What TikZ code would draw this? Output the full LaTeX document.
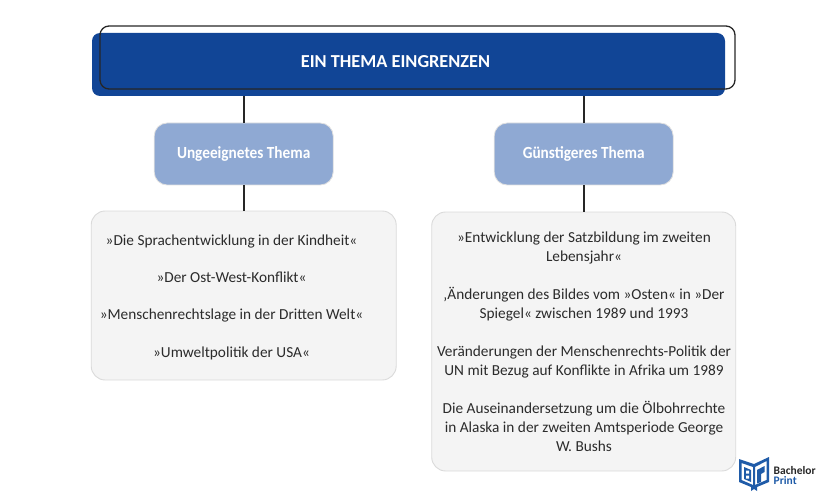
\documentclass[tikz,border=0pt]{standalone}
\usepackage{fontspec}
\setmainfont{Carlito}
\newfontfamily\headfont[FakeStretch=0.90]{Carlito Bold}
\usetikzlibrary{calc}
\definecolor{navy}{HTML}{114596}
\definecolor{midblue}{HTML}{8FA9D3}
\definecolor{listfill}{HTML}{F4F4F4}
\definecolor{listline}{HTML}{DADADA}
\definecolor{ink}{HTML}{2B2B2B}
\definecolor{logoblue}{HTML}{1F5BA8}
\tikzset{
  px/.style={x=1pt,y=-1pt},
  mainbox/.style={fill=navy,draw=none,rounded corners=8pt,minimum width=633pt,minimum height=63pt,inner sep=0pt},
  frameline/.style={draw=black!85,line width=1.3pt,rounded corners=9pt,minimum width=635pt,minimum height=63pt,inner sep=0pt},
  titletext/.style={text=white,font=\fontsize{18.3}{20}\selectfont\bfseries},
  midbox/.style={fill=midblue,draw=black!12,line width=.8pt,rounded corners=13pt,minimum width=179pt,minimum height=62pt,inner sep=0pt,text=white,font=\fontsize{17}{20}\selectfont\headfont},
  listbox/.style={fill=listfill,draw=listline,line width=.9pt,rounded corners=14pt,inner sep=0pt},
  listtext/.style={text=ink,align=center,inner sep=0pt,font=\fontsize{15.3}{19}\selectfont},
  link/.style={draw=black!85,line width=2pt},
}
\begin{document}
\begin{tikzpicture}[px]
\useasboundingbox (0,0) rectangle (825,500);
\node[mainbox] (main) at (408.5,64.5) {};
\node[frameline] (frame) at (417.5,57.5) {};
\node[titletext] (title) at (395.5,62) {EIN THEMA EINGRENZEN};
\node[listbox,minimum width=305pt,minimum height=169pt] (llist) at (243.7,295.5) {};
\node[listbox,minimum width=304pt,minimum height=259pt] (rlist) at (583.7,341.5) {};
\node[midbox] (lmid) at (243.7,154) {\raisebox{-1pt}{Ungeeignetes Thema}};
\node[midbox] (rmid) at (583.7,154) {\raisebox{-1pt}{Günstigeres Thema}};
\draw[link] (main.south -| lmid.north) -- (lmid.north);
\draw[link] (main.south -| rmid.north) -- (rmid.north);
\draw[link] (lmid.south) -- (llist.north);
\draw[link] (rmid.south) -- (rlist.north);
\node[listtext] (ltext) at (231.5,297) {»Die Sprachentwicklung in der Kindheit«\\[18.3pt]
»Der Ost-West-Konflikt«\\[18.3pt]
»Menschenrechtslage in der Dritten Welt«\\[18.3pt]
»Umweltpolitik der USA«};
\node[listtext] (rtext) at (584,341.5) {»Entwicklung der Satzbildung im zweiten\\Lebensjahr«\\[19pt]
‚Änderungen des Bildes vom »Osten« in »Der\\Spiegel« zwischen 1989 und 1993\\[19pt]
Veränderungen der Menschenrechts-Politik der\\UN mit Bezug auf Konflikte in Afrika um 1989\\[19pt]
Die Auseinandersetzung um die Ölbohrrechte\\in Alaska in der zweiten Amtsperiode George\\W. Bushs};
% logo
\fill[logoblue,even odd rule] (739,459) -- (754,464) -- (769,457) -- (769,482) -- (757,487) -- (757,491) -- (754,489) -- (751,491) -- (751,487) -- (739,482) -- cycle
 (741.5,463) -- (741.5,480) -- (753,485) -- (753,467) -- cycle
 (755,467) -- (755,485) -- (766.5,480) -- (766.5,461) -- cycle;
\fill[logoblue] (744,467) -- (751,470) -- (751,482) -- (744,479) -- cycle;
\fill[logoblue] (757,470) -- (764.5,466) -- (764.5,472) -- (761,474) -- (761,482) -- (757,483.5) -- cycle;
\fill[white] (746,470.5) rectangle (749,473.5) (746,475.5) rectangle (749,478.5);
\node[anchor=west,inner sep=0pt,text=black!85,font=\fontsize{11.5}{12}\selectfont\bfseries] (brand1) at (773.5,471) {Bachelor};
\node[anchor=west,inner sep=0pt,text=logoblue,font=\fontsize{11.5}{12}\selectfont\bfseries] (brand2) at (773.5,481) {Print};
\end{tikzpicture}
\end{document}
